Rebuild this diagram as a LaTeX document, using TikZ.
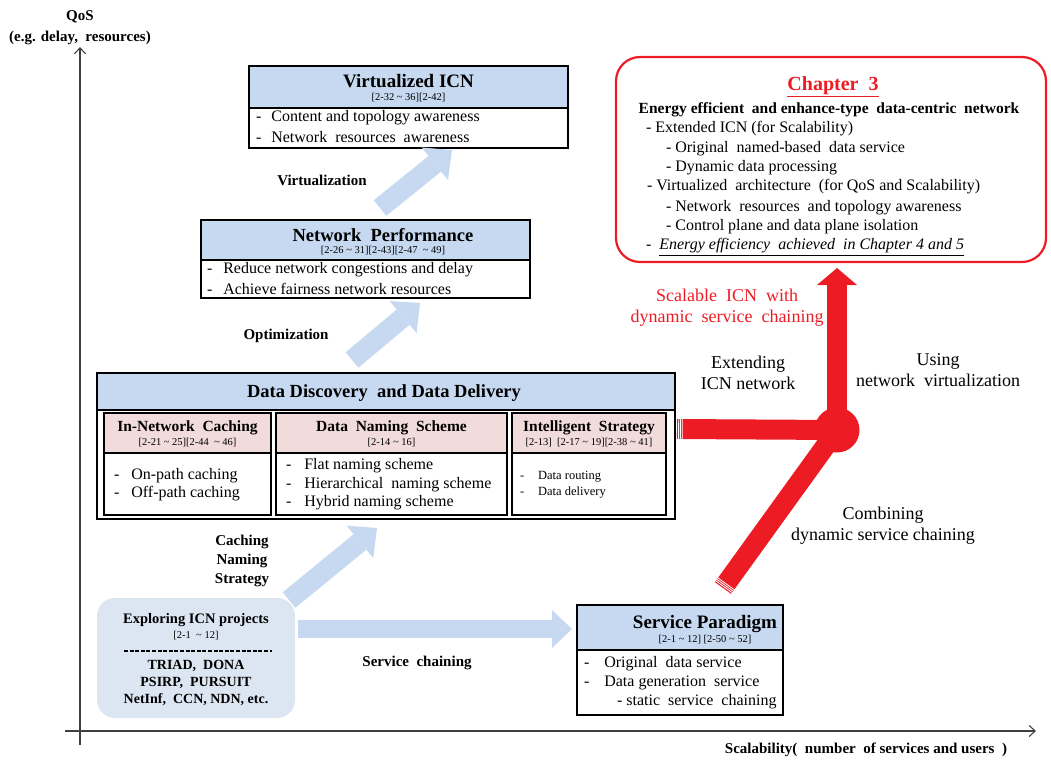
\documentclass[tikz,border=0pt]{standalone}
\usepackage{fontspec}
\setmainfont{Liberation Serif}
\usetikzlibrary{arrows.meta,calc}
\definecolor{hdrblue}{HTML}{C6D9F1}
\definecolor{arrblue}{HTML}{C6D9F0}
\definecolor{softblue}{HTML}{DCE6F2}
\definecolor{hdrpink}{HTML}{F2DCDB}
\definecolor{redc}{HTML}{ED1C24}
\definecolor{axisgray}{HTML}{404040}
\newcommand\fz[2]{\fontsize{#1pt}{#2pt}\selectfont}
\newcommand\tl{\textasciitilde}
\tikzset{
  every node/.style={inner sep=0pt, outer sep=0pt},
  frame/.style={draw=black, line width=1.1pt},
  hdr/.style={frame, fill=hdrblue, anchor=north west},
  pinkhdr/.style={frame, fill=hdrpink, anchor=north west},
  bodybox/.style={frame, fill=white, anchor=north west},
  ttl/.style={font=\bfseries\fz{18.5}{20}},
  subttl/.style={font=\bfseries\fz{15.5}{18}},
  refs/.style={font=\fz{10.5}{12}},
  item/.style={anchor=west, font=\fz{16}{18}},
  smallitem/.style={anchor=west, font=\fz{12.5}{14}},
  chitem/.style={anchor=west, font=\fz{16}{18}},
  lbl/.style={font=\bfseries\fz{15}{19}, align=center},
  note/.style={font=\fz{18}{21}, align=center},
  bluearrow/.style={draw=arrblue, line width=20pt,
    -{Triangle[length=22pt,width=42pt,line width=0pt]}},
  redbar/.style={draw=redc, line width=20pt, line cap=butt},
  axis/.style={draw=axisgray, line width=1.1pt,
    -{Straight Barb[length=6pt,width=11pt]}},
}
\begin{document}
\begin{tikzpicture}[x=1pt,y=-1pt]
\useasboundingbox (0,0) rectangle (1051,760);

% axes
\coordinate (yb) at (80,745);
\coordinate (yt) at (80,47);
\coordinate (xl) at (65,731);
\coordinate (xr) at (1036,731);
\draw[axis] (yb) -- (yt);
\draw[axis] (xl) -- (xr);
\node[lbl] (qos) at (80,17) {QoS};
\node[lbl] (qosx) at (80,38) {(e.g. delay,\ \ resources)};
\node[lbl] (scal) at (866,750) {Scalability(\ \ number\ \ of services and users\ \ )};

% Virtualized ICN
\node[hdr, minimum width=319pt, minimum height=42pt] (vicnH) at (249,66) {};
\node[bodybox, minimum width=319pt, minimum height=40pt] (vicnB) at (249,108) {};
\node[ttl, font=\bfseries\fz{19}{20}] (vicnT) at (408.5,81) {Virtualized ICN};
\node[refs] (vicnR) at (408.5,98) {[2-32 \tl\ 36][2-42]};
\node[item] (vicn1) at (256,118) {-\hspace{10pt}Content and topology awareness};
\node[item] (vicn2) at (256,137) {-\hspace{10pt}Network\ \ resources\ \ awareness};

% Network Performance
\node[hdr, minimum width=329pt, minimum height=40pt] (npH) at (201,220) {};
\node[bodybox, minimum width=329pt, minimum height=38pt] (npB) at (201,260) {};
\node[ttl] (npT) at (383,235) {Network\ \ Performance};
\node[refs] (npR) at (383,251) {[2-26 \tl\ 31][2-43][2-47\ \ \tl\ 49]};
\node[item] (np1) at (207,270) {-\hspace{11pt}Reduce network congestions and delay};
\node[item] (np2) at (207,289) {-\hspace{11pt}Achieve fairness network resources};

% upward block arrows
\node[lbl] (virt) at (322,180) {Virtualization};
\coordinate (va0) at (380,208);
\coordinate (va1) at (452,150);
\draw[bluearrow] (va0) -- (va1);
\node[lbl] (optm) at (286,336) {Optimization};
\coordinate (oa0) at (352,360);
\coordinate (oa1) at (420,303);
\draw[bluearrow] (oa0) -- (oa1);

% Data Discovery and Data Delivery
\node[frame, fill=white, anchor=north west, minimum width=578pt, minimum height=146pt] (ddO) at (97,373) {};
\node[hdr, minimum width=578pt, minimum height=37pt] (ddH) at (97,373) {};
\node[font=\bfseries\fz{18.5}{20}] (ddT) at (384,393) {Data Discovery\ \ and Data Delivery};

\node[pinkhdr, minimum width=167pt, minimum height=40pt] (c1H) at (104,413) {};
\node[bodybox, minimum width=167pt, minimum height=62pt] (c1B) at (104,453) {};
\node[subttl] (c1T) at (187.5,428) {In-Network\ \ Caching};
\node[refs] (c1R) at (187.5,443) {[2-21 \tl\ 25][2-44\ \ \tl\ 46]};
\node[item] (c11) at (114,476) {-\hspace{12pt}On-path caching};
\node[item] (c12) at (114,494) {-\hspace{12pt}Off-path caching};

\node[pinkhdr, minimum width=231pt, minimum height=40pt] (c2H) at (276,413) {};
\node[bodybox, minimum width=231pt, minimum height=62pt] (c2B) at (276,453) {};
\node[subttl] (c2T) at (391.5,428) {Data\ \ Naming\ \ Scheme};
\node[refs] (c2R) at (391.5,443) {[2-14 \tl\ 16]};
\node[item] (c21) at (286,466) {-\hspace{13pt}Flat naming scheme};
\node[item] (c22) at (286,485) {-\hspace{13pt}Hierarchical\ \ naming scheme};
\node[item] (c23) at (286,503) {-\hspace{13pt}Hybrid naming scheme};

\node[pinkhdr, minimum width=154pt, minimum height=40pt] (c3H) at (512,413) {};
\node[bodybox, minimum width=154pt, minimum height=62pt] (c3B) at (512,453) {};
\node[subttl] (c3T) at (589,428) {Intelligent\ \ Strategy};
\node[refs] (c3R) at (589,443) {[2-13]\ \ [2-17 \tl\ 19][2-38 \tl\ 41]};
\node[smallitem] (c31) at (520,477) {-\hspace{14pt}Data routing};
\node[smallitem] (c32) at (520,493) {-\hspace{14pt}Data delivery};

% Exploring ICN projects
\node[fill=softblue, rounded corners=18pt, anchor=north west, minimum width=198pt, minimum height=120pt] (expl) at (97,598) {};
\node[font=\bfseries\fz{14.5}{16}] (exT) at (196,620) {Exploring ICN projects};
\node[refs] (exR) at (196,636) {[2-1\ \ \tl\ 12]};
\draw[line width=1.3pt, dash pattern=on 4pt off 1.6pt] (124,651) -- (272,651);
\node[font=\bfseries\fz{14}{17}, align=center] (exL) at (196,683) {TRIAD,\ \ DONA\\PSIRP,\ \ PURSUIT\\NetInf,\ \ CCN, NDN, etc.};

\node[lbl] (cns) at (242,561) {Caching\\Naming\\Strategy};
\coordinate (ca0) at (289,600);
\coordinate (ca1) at (377,528);
\draw[bluearrow] (ca0) -- (ca1);

% Service Paradigm
\node[hdr, minimum width=206pt, minimum height=45pt] (spH) at (577,605) {};
\node[bodybox, minimum width=206pt, minimum height=65pt] (spB) at (577,650) {};
\node[font=\bfseries\fz{19}{20}] (spT) at (705,624) {Service Paradigm};
\node[refs] (spR) at (705,640) {[2-1 \tl\ 12] [2-50 \tl\ 52]};
\node[item] (sp1) at (584,664) {-\hspace{15pt}Original\ \ data service};
\node[item] (sp2) at (584,683) {-\hspace{15pt}Data generation\ \ service};
\node[item] (sp3) at (617,702) {- static\ \ service\ \ chaining};

\coordinate (sa0) at (298,629);
\coordinate (sa1) at (572,629);
\draw[bluearrow, line width=18pt, -{Triangle[length=20pt,width=38pt,line width=0pt]}] (sa0) -- (sa1);
\node[lbl] (svc) at (417,663) {Service\ \ chaining};

% Chapter 3
\node[draw=redc, line width=2.2pt, rounded corners=24pt, fill=white, anchor=north west, minimum width=430pt, minimum height=205pt] (ch3) at (616,57) {};
\node[font=\bfseries\fz{20}{22}, text=redc] (ch3T) at (833,87) {\underline{Chapter\ \ 3}};
\node[font=\bfseries\fz{15.5}{17}] (ch3S) at (829,110) {Energy efficient\ \ and enhance-type\ \ data-centric\ \ network};
\node[chitem] (ch31) at (646,129) {- Extended ICN (for Scalability)};
\node[chitem] (ch32) at (666,149) {- Original\ \ named-based\ \ data service};
\node[chitem] (ch33) at (666,168) {- Dynamic data processing};
\node[chitem] (ch34) at (647,187) {- Virtualized\ \ architecture\ \ (for QoS and Scalability)};
\node[chitem] (ch35) at (666,208) {- Network\ \ resources\ \ and topology awareness};
\node[chitem] (ch36) at (666,227) {- Control plane and data plane isolation};
\node[chitem] (ch37) at (646,247) {-\ \ \underline{\itshape Energy efficiency\ \ achieved\ \ in Chapter 4 and 5}};

% red junction and bars
\node[circle, fill=redc, minimum size=45pt] (hub) at (837,430) {};
\coordinate (vtip) at (837,268);
\coordinate (hL) at (677,429);
\coordinate (dL) at (723,588);
\draw[redbar] (hL) -- (hub.center);
\draw[redbar] (dL) -- (hub.center);
\draw[redbar, -{Triangle[length=17pt,width=40pt,line width=0pt]}] (hub.center) -- (vtip);
% striped tails
\foreach \d in {1.6,3.4,5.2} {
  \path ($(hL)!\d pt!(hub.center)$) coordinate (s);
  \draw[white, line width=0.8pt] ($(s)!11pt!90:(hub.center)$) -- ($(s)!11pt!-90:(hub.center)$);
  \path ($(dL)!\d pt!(hub.center)$) coordinate (t);
  \draw[white, line width=0.8pt] ($(t)!11pt!90:(hub.center)$) -- ($(t)!11pt!-90:(hub.center)$);
}

\node[note, text=redc] (scn) at (727,307.5) {Scalable\ \ ICN\ \ with\\dynamic\ \ service\ \ chaining};
\node[note] (ext) at (748,372.5) {Extending\\ICN network};
\node[note] (use) at (938,370) {Using\\network\ \ virtualization};
\node[note] (cmb) at (883,526) {Combining\\dynamic service chaining};
\end{tikzpicture}
\end{document}
